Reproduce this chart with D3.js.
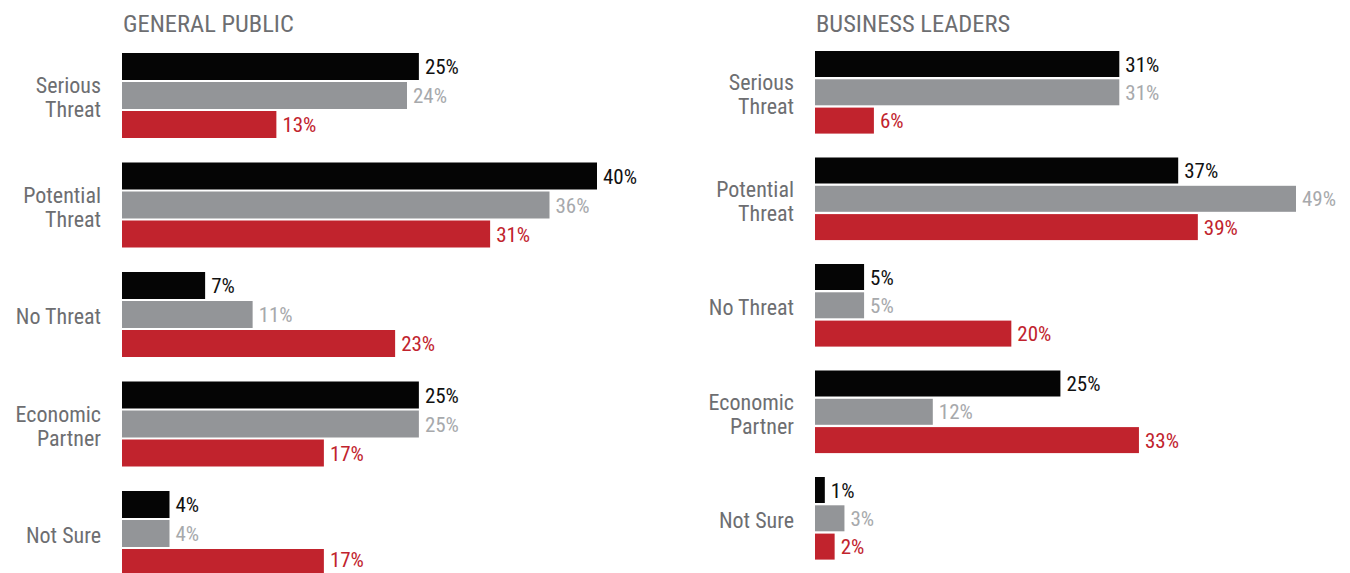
<!DOCTYPE html>
<html>
<head>
<meta charset="utf-8">
<style>
  body { margin: 0; background: #fff; }
  text { font-family: "Liberation Sans Narrow", "Roboto Condensed", "DejaVu Sans Condensed", "Arial Narrow", sans-serif; }
</style>
</head>
<body>
<div id="chart"></div>
<script src="https://d3js.org/d3.v7.min.js"></script>
<script>

// categories and series values
var categories = ["Serious Threat", "Potential Threat", "No Threat", "Economic Partner", "Not Sure"];
var categoryLines = [["Serious", "Threat"], ["Potential", "Threat"], ["No Threat"], ["Economic", "Partner"], ["Not Sure"]];
var seriesKeys = ["first", "second", "third"];

var publicFirst  = [25, 40, 7, 25, 4];
var publicSecond = [24, 36, 11, 25, 4];
var publicThird  = [13, 31, 23, 17, 17];

var leadersFirst  = [31, 37, 5, 25, 1];
var leadersSecond = [31, 49, 5, 12, 3];
var leadersThird  = [6, 39, 20, 33, 2];

var barColors   = {first: "#050505", second: "#939598", third: "#c1232d"};
var labelColors = {first: "#111111", second: "#a7a9ac", third: "#c1232d"};

var W = 1350, H = 573;

var svg = d3.select("#chart")
  .append("svg")
    .attr("width", W)
    .attr("height", H);

function panel(opts) {
  var rows = categories.map(function(c, i) {
    return {cat: c, lines: categoryLines[i], first: opts.first[i], second: opts.second[i], third: opts.third[i]};
  });

  // x scale: percent to pixels
  var x = d3.scaleLinear()
      .domain([0, opts.maxVal])
      .range([opts.x0, opts.x0 + opts.maxPx]);

  // one band per category
  var y = d3.scaleBand()
      .domain(categories)
      .range([opts.y0, opts.y0 + 4 * opts.step + opts.groupH])
      .paddingInner((opts.step - opts.groupH) / opts.step)
      .paddingOuter(0);

  // bars inside a group
  var yInner = d3.scaleBand()
      .domain(seriesKeys)
      .range([0, y.bandwidth()])
      .paddingInner(opts.gap / (opts.barH + opts.gap))
      .paddingOuter(0);

  var g = svg.append("g");

  // title
  g.append("text")
    .attr("x", opts.x0 + 1)
    .attr("y", 32)
    .attr("fill", "#6d6e71")
    .style("font-size", "24.5px")
    .text(opts.title);

  var groups = g.selectAll(".grp")
    .data(rows)
    .enter()
    .append("g")
      .attr("class", "grp")
      .attr("transform", function(d) { return "translate(0," + y(d.cat) + ")"; });

  // category labels, one or two lines
  groups.append("text")
    .attr("x", opts.x0 - 21)
    .attr("text-anchor", "end")
    .attr("fill", "#6d6e71")
    .style("font-size", "22px")
    .each(function(d) {
      var t = d3.select(this);
      var n = d.lines.length;
      d.lines.forEach(function(line, k) {
        t.append("tspan")
          .attr("x", opts.x0 - 21)
          .attr("y", y.bandwidth() / 2 + 2 + (k - (n - 1) / 2) * 24)
          .attr("dy", "0.35em")
          .text(line);
      });
    });

  groups.selectAll("rect")
    .data(function(d) { return seriesKeys.map(function(k) { return {key: k, value: d[k]}; }); })
    .enter()
    .append("rect")
      .attr("x", x(0))
      .attr("y", function(d) { return yInner(d.key); })
      .attr("width", function(d) { return x(d.value) - x(0); })
      .attr("height", yInner.bandwidth())
      .attr("fill", function(d) { return barColors[d.key]; });

  groups.selectAll(".val")
    .data(function(d) { return seriesKeys.map(function(k) { return {key: k, value: d[k]}; }); })
    .enter()
    .append("text")
      .attr("class", "val")
      .attr("x", function(d) { return x(d.value) + 6; })
      .attr("y", function(d, i, nodes) {
        var gy = d3.select(nodes[i].parentNode).datum().cat;
        var cy = yInner(d.key) + yInner.bandwidth() / 2;
        // keep the last label inside the picture
        return Math.min(cy, H - 13.5 - y(gy));
      })
      .attr("dy", "0.36em")
      .attr("fill", function(d) { return labelColors[d.key]; })
      .style("font-size", "21px")
      .text(function(d) { return d.value + "%"; });
}

panel({
  title: "GENERAL PUBLIC",
  first: publicFirst, second: publicSecond, third: publicThird,
  x0: 122, maxVal: 40, maxPx: 475,
  y0: 53, step: 109.5, barH: 27, gap: 2, groupH: 85
});

panel({
  title: "BUSINESS LEADERS",
  first: leadersFirst, second: leadersSecond, third: leadersThird,
  x0: 815, maxVal: 49, maxPx: 481,
  y0: 51, step: 106.5, barH: 26, gap: 2.3, groupH: 82.6
});

</script>
</body>
</html>
